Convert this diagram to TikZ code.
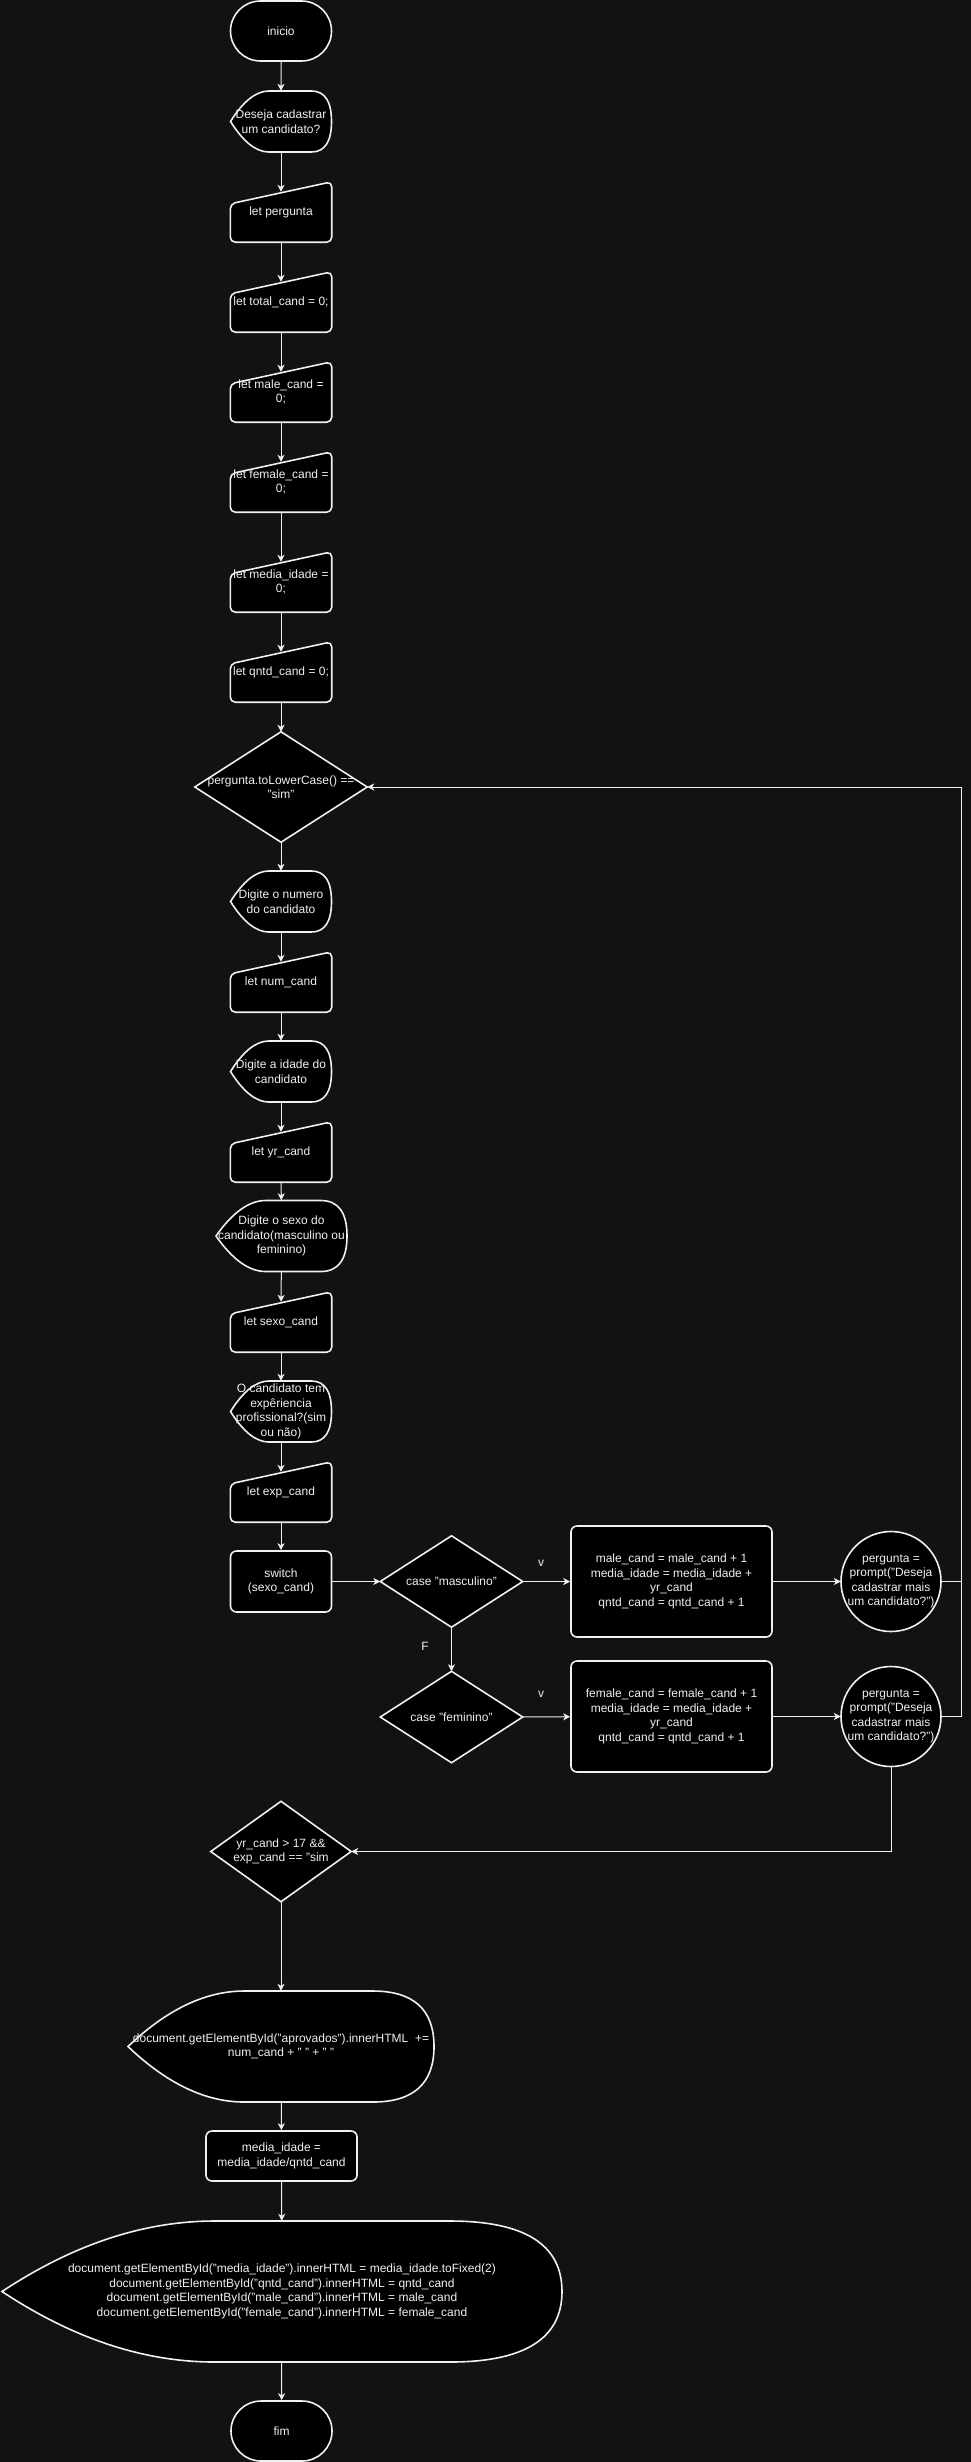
\documentclass[tikz,border=0pt]{standalone}
\usepackage{fontspec}
\setmainfont{Liberation Sans}
\usetikzlibrary{arrows.meta,shapes.misc,backgrounds}

\definecolor{canvas}{HTML}{121212}
\definecolor{ink}{HTML}{F0F0F0}

\tikzset{
  txt/.style={font=\fontsize{12}{14.5}\selectfont, text=ink, align=center, inner sep=0pt},
  outline/.style={draw=ink, fill=black, line width=1.6pt},
  terminal/.style={txt, outline, rounded rectangle, minimum width=101pt, minimum height=60pt},
  process/.style={txt, outline, rectangle, rounded corners=6pt},
  inbox/.style={txt, minimum width=101pt, minimum height=60pt},
  showbox/.style={txt, minimum width=101pt, minimum height=61pt},
  roundbox/.style={txt, minimum width=100pt, minimum height=100pt},
  flow/.style={draw=ink, line width=1pt, -{Stealth[length=7pt,width=7pt,inset=2pt]}},
  flowin/.style={flow, shorten >=-10pt},
  wire/.style={draw=ink, line width=1pt},
  tag/.style={font=\fontsize{12}{14.5}\selectfont, text=ink, inner sep=0pt}
}

% manual input outline
\newcommand{\inputshape}[1]{%
  \draw[outline, rounded corners=5pt] ([yshift=-22pt]#1.north west) -- (#1.north east)
    -- (#1.south east) -- (#1.south west) -- cycle;}

% display outline: node, width, height
\newcommand{\displayshape}[3]{%
  \draw[outline, shift={(#1.center)}] ({-#2/2},0)
    .. controls ({-#2/2+0.127*#2},{-#3/3}) and ({-#2/2+0.253*#2},{-#3/2}) .. ({-#2/2+0.38*#2},{-#3/2})
    -- ({#2/2-0.2*#2},{-#3/2})
    .. controls ({#2/2-0.067*#2},{-#3/2}) and ({#2/2},{-#3/3}) .. ({#2/2},0)
    .. controls ({#2/2},{#3/3}) and ({#2/2-0.067*#2},{#3/2}) .. ({#2/2-0.2*#2},{#3/2})
    -- ({-#2/2+0.38*#2},{#3/2})
    .. controls ({-#2/2+0.253*#2},{#3/2}) and ({-#2/2+0.127*#2},{#3/3}) .. cycle;}

% decision outline
\newcommand{\decisionshape}[1]{%
  \draw[outline] (#1.north) -- (#1.east) -- (#1.south) -- (#1.west) -- cycle;}

\begin{document}
\begin{tikzpicture}[x=1pt,y=-1pt]
\useasboundingbox (0,0) rectangle (970,2462);

% Start and setup
\node[terminal] (inicio) at (281,31) {inicio};
\node[showbox] (deseja) at (281,121.5) {Deseja cadastrar\\um candidato?};
\node[inbox] (pergunta) at (281,212) {let pergunta};
\node[inbox] (totalc) at (281,302) {let total\_cand = 0;};
\node[inbox] (malec) at (281,392) {let male\_cand =\\0;};
\node[inbox] (femalec) at (281,482) {let female\_cand =\\0;};
\node[inbox] (mediac) at (281,582) {let media\_idade =\\0;};
\node[inbox] (qntdc) at (281,672) {let qntd\_cand = 0;};

% Main loop
\node[txt, minimum width=172pt, minimum height=110pt] (cond) at (281,787) {pergunta.toLowerCase() ==\\"sim"};
\node[showbox] (dignum) at (281,901.5) {Digite o numero\\do candidato};
\node[inbox] (numcand) at (281,982) {let num\_cand};
\node[showbox] (digidade) at (281,1071.5) {Digite a idade do\\candidato};
\node[inbox] (yrcand) at (281,1152) {let yr\_cand};
\node[txt, minimum width=131pt, minimum height=71pt] (digsexo) at (281.5,1236) {Digite o sexo do\\candidato(masculino ou\\feminino)};
\node[inbox] (sexocand) at (281,1322) {let sexo\_cand};
\node[showbox] (digexp) at (281,1411.5) {O candidato tem\\expêriencia\\profissional?(sim\\ou não)};
\node[inbox] (expcand) at (281,1492) {let exp\_cand};
\node[process, minimum width=101pt, minimum height=61pt] (switch) at (281,1581.5) {switch\\(sexo\_cand)};

% Switch cases
\node[txt, minimum width=142pt, minimum height=91pt] (masc) at (451.5,1581.5) {case "masculino"};
\node[txt, minimum width=142pt, minimum height=91pt] (fem) at (451.5,1717) {case "feminino"};
\node[process, minimum width=201pt, minimum height=111pt] (malebox) at (671.5,1581.5)
  {male\_cand = male\_cand + 1\\media\_idade = media\_idade +\\yr\_cand\\qntd\_cand = qntd\_cand + 1};
\node[process, minimum width=201pt, minimum height=111pt] (femalebox) at (671.5,1716.5)
  {female\_cand = female\_cand + 1\\media\_idade = media\_idade +\\yr\_cand\\qntd\_cand = qntd\_cand + 1};
\node[roundbox] (ask1) at (891,1581.5) {pergunta =\\prompt("Deseja\\cadastrar mais\\um candidato?")};
\node[roundbox] (ask2) at (891,1716.5) {pergunta =\\prompt("Deseja\\cadastrar mais\\um candidato?")};
\node[tag] (vmale) at (541,1563) {v};
\node[tag] (vfemale) at (541,1694) {v};
\node[tag] (fcase) at (425,1646) {F};

% Results
\node[txt, minimum width=140pt, minimum height=100pt] (check) at (281,1851.5) {yr\_cand > 17 \&\&\\exp\_cand == "sim};
\node[txt, minimum width=306pt, minimum height=111pt] (aprov) at (281,2046.5)
  {document.getElementById("aprovados").innerHTML \ +=\\num\_cand + " " + " "};
\node[process, minimum width=151pt, minimum height=50pt] (media) at (281.5,2156) {media\_idade =\\media\_idade/qntd\_cand};
\node[txt, minimum width=560pt, minimum height=141pt] (relat) at (282,2291.5)
  {document.getElementById("media\_idade").innerHTML = media\_idade.toFixed(2)\\
   document.getElementById("qntd\_cand").innerHTML = qntd\_cand\\
   document.getElementById("male\_cand").innerHTML = male\_cand\\
   document.getElementById("female\_cand").innerHTML = female\_cand};
\node[terminal] (fim) at (281.5,2431) {fim};

% Outlines behind the texts
\begin{scope}[on background layer]
\fill[canvas] (-3,-3) rectangle (973,2465);
\displayshape{deseja}{101}{61}
\displayshape{dignum}{101}{61}
\displayshape{digidade}{101}{61}
\displayshape{digsexo}{131}{71}
\displayshape{digexp}{101}{61}
\displayshape{aprov}{306}{111}
\displayshape{relat}{560}{141}
\inputshape{pergunta}
\inputshape{totalc}
\inputshape{malec}
\inputshape{femalec}
\inputshape{mediac}
\inputshape{qntdc}
\inputshape{numcand}
\inputshape{yrcand}
\inputshape{sexocand}
\inputshape{expcand}
\decisionshape{cond}
\decisionshape{masc}
\decisionshape{fem}
\decisionshape{check}
\draw[outline] (ask1.center) circle[radius=50];
\draw[outline] (ask2.center) circle[radius=50];
\end{scope}

% Arrows
\draw[flow] (inicio) -- (deseja);
\draw[flowin] (deseja) -- (pergunta);
\draw[flowin] (pergunta) -- (totalc);
\draw[flowin] (totalc) -- (malec);
\draw[flowin] (malec) -- (femalec);
\draw[flowin] (femalec) -- (mediac);
\draw[flowin] (mediac) -- (qntdc);
\draw[flow] (qntdc) -- (cond);
\draw[flow] (cond) -- (dignum);
\draw[flowin] (dignum) -- (numcand);
\draw[flow] (numcand) -- (digidade);
\draw[flowin] (digidade) -- (yrcand);
\draw[flow] (yrcand) -- (digsexo);
\draw[flowin] (digsexo) -- (sexocand);
\draw[flow] (sexocand) -- (digexp);
\draw[flowin] (digexp) -- (expcand);
\draw[flow] (expcand) -- (switch);
\draw[flow] (switch) -- (masc);
\draw[flow] (masc) -- (malebox);
\draw[flow] (masc) -- (fem);
\draw[flow] (fem) -- (femalebox);
\draw[flow] (malebox) -- (ask1);
\draw[flow] (femalebox) -- (ask2);

% Back to the loop and on to the results
\coordinate (loopr) at (961,1716.5);
\draw[wire] (ask1.east) -- (ask1.east -| loopr);
\draw[flow] (ask2.east) -- (loopr) |- (cond.east);
\draw[flow] (ask2.south) |- (check.east);
\draw[flow] (check) -- (aprov);
\draw[flow] (aprov) -- (media);
\draw[flow] (media) -- (relat);
\draw[flow] (relat) -- (fim);

\end{tikzpicture}
\end{document}
